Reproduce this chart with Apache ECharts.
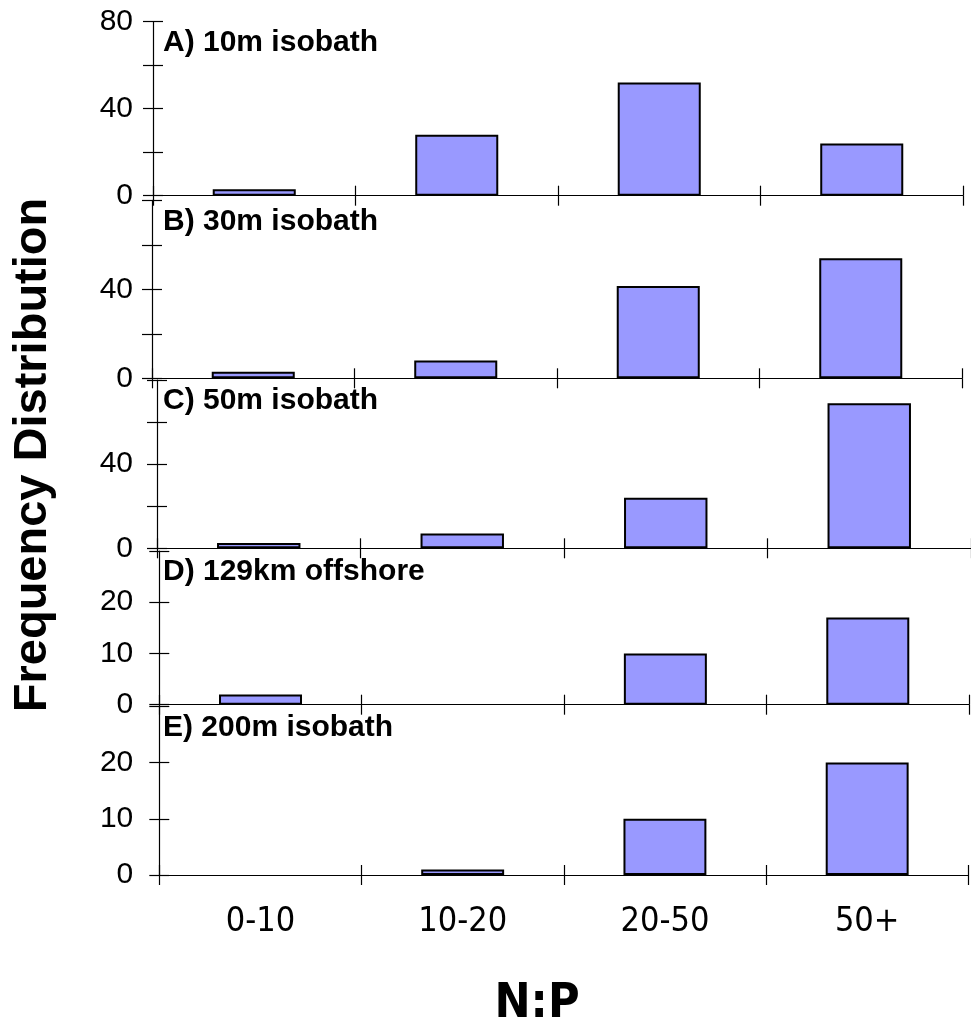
<!DOCTYPE html>
<html>
<head>
<meta charset="utf-8">
<script src="https://cdn.jsdelivr.net/npm/echarts@6/dist/echarts.min.js"></script>
<style>
  html, body { margin: 0; padding: 0; background: #ffffff; }
  #chart { width: 971px; height: 1025px; }
</style>
</head>
<body>
<div id="chart"></div>
<script>
// N:P ratio classes shared by all five panels
const categories = ['0-10', '10-20', '20-50', '50+'];

// Panel titles (stations)
const panelTitles = ['A) 10m isobath', 'B) 30m isobath', 'C) 50m isobath', 'D) 129km offshore', 'E) 200m isobath'];

// Frequency of each N:P class per station
const valuesA = [3, 28, 52, 24];
const valuesB = [3, 8, 41.5, 54];
const valuesC = [2.5, 7, 24, 69];
const valuesD = [2, 0, 10, 17];
const valuesE = [0, 1, 10, 20];

// Y-axis scales and which ticks carry a label
const yMaxes = [80, 80, 80, 30, 30];
const yIntervals = [20, 20, 20, 10, 10];
const yTickLabels = [[0, 40, 80], [0, 40], [0, 40], [0, 10, 20], [0, 10, 20]];

const axisTitleY = 'Frequency Distribution';
const axisTitleX = 'N:P';

const panelValues = [valuesA, valuesB, valuesC, valuesD, valuesE];

// Panel frames in pixels
const frames = [
  { left: 153,   top: 21.7,  width: 810,   height: 174,   labelMargin: 20 },
  { left: 152,   top: 200.3, width: 810,   height: 178,   labelMargin: 19 },
  { left: 157,   top: 380,   width: 814,   height: 168.3, labelMargin: 24 },
  { left: 159.3, top: 551,   width: 809.7, height: 153.7, labelMargin: 26 },
  { left: 159.3, top: 706.4, width: 809,   height: 168.6, labelMargin: 26 }
];

const SANS = "'Liberation Sans', Arial, sans-serif";
const NARROW = "'Liberation Sans Narrow', 'Arial Narrow', 'DejaVu Sans Condensed', sans-serif";
const INK = '#000000';

const grid = [], xAxis = [], yAxis = [], series = [], title = [];

frames.forEach((f, i) => {
  grid.push({ left: f.left, top: f.top, width: f.width, height: f.height, containLabel: false });

  const last = i === frames.length - 1;
  // main category axis: line, outward ticks, labels on the bottom panel only
  xAxis.push({
    type: 'category', gridIndex: i, data: categories, position: 'bottom',
    boundaryGap: true,
    axisLine: { show: true, lineStyle: { color: INK, width: 1.2 } },
    axisTick: { show: true, inside: false, length: 10, lineStyle: { color: INK, width: 1.2 } },
    axisLabel: { show: last, margin: 30, color: INK, fontSize: 34, fontFamily: NARROW },
    splitLine: { show: false }
  });
  // companion axis: inward ticks so the tick marks cross the line
  xAxis.push({
    type: 'category', gridIndex: i, data: categories, position: 'bottom',
    boundaryGap: true,
    axisLine: { show: false },
    axisTick: { show: true, inside: true, length: 10, lineStyle: { color: INK, width: 1.2 } },
    axisLabel: { show: false },
    splitLine: { show: false }
  });

  const labelled = yTickLabels[i];
  yAxis.push({
    type: 'value', gridIndex: i, position: 'left',
    min: 0, max: yMaxes[i], interval: yIntervals[i],
    axisLine: { show: true, lineStyle: { color: INK, width: 1.2 } },
    axisTick: { show: true, inside: false, length: 10, lineStyle: { color: INK, width: 1.2 } },
    axisLabel: {
      show: true, margin: f.labelMargin, color: INK, fontSize: 30, fontFamily: SANS,
      showMaxLabel: true,
      formatter: v => (labelled.indexOf(v) >= 0 ? String(v) : '')
    },
    splitLine: { show: false }
  });
  yAxis.push({
    type: 'value', gridIndex: i, position: 'left',
    min: 0, max: yMaxes[i], interval: yIntervals[i],
    axisLine: { show: false },
    axisTick: { show: true, inside: true, length: 10, lineStyle: { color: INK, width: 1.2 } },
    axisLabel: { show: false },
    splitLine: { show: false }
  });

  series.push({
    type: 'bar',
    xAxisIndex: 2 * i, yAxisIndex: 2 * i,
    barWidth: '41%',
    itemStyle: { color: '#9999ff', borderColor: INK, borderWidth: 2 },
    data: panelValues[i].map(v => (v === 0 ? { value: 0, itemStyle: { borderWidth: 0 } } : v)),
    z: 3
  });

  title.push({
    text: panelTitles[i], left: 163, top: f.top + 6, padding: 0,
    textStyle: { color: INK, fontSize: 30, fontWeight: 'bold', fontFamily: SANS }
  });
});

const chart = echarts.init(document.getElementById('chart'), null, { renderer: 'canvas' });
chart.setOption({
  backgroundColor: '#ffffff',
  animation: false,
  title: title,
  grid: grid,
  xAxis: xAxis,
  yAxis: yAxis,
  series: series,
  graphic: [
    {
      type: 'text', x: 33, y: 455, rotation: Math.PI / 2,
      style: {
        text: axisTitleY, fill: INK, font: "bold 47px 'Liberation Sans', Arial, sans-serif",
        align: 'center', verticalAlign: 'middle'
      }
    },
    {
      type: 'text', x: 537, y: 1005,
      style: {
        text: axisTitleX, fill: INK, font: "bold 48px 'Liberation Sans Narrow', 'Arial Narrow', 'DejaVu Sans Condensed', sans-serif",
        align: 'center', verticalAlign: 'middle'
      }
    }
  ]
});
</script>
</body>
</html>
